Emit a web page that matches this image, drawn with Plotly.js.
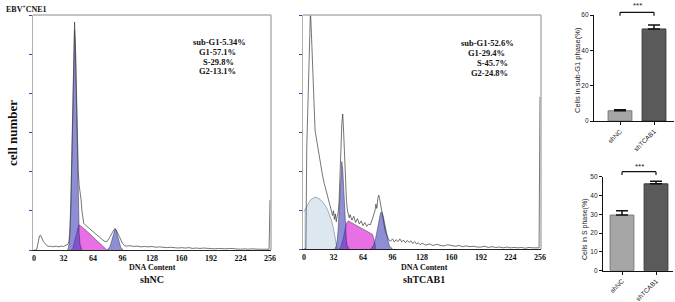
<!DOCTYPE html>
<html><head><meta charset="utf-8">
<script src="https://cdn.plot.ly/plotly-3.0.1.min.js"></script>
<style>html,body{margin:0;padding:0;background:#fff}#chart{width:675px;height:302px}</style>
</head><body><div id="chart"></div>
<script>
// ---------- DATA ----------
// shNC histogram (DNA channel, cell count)
var ncX = [0,2,3,4,5,6,7,8,9,10,12,14,16,18,20,22,24,26,28,30,32,34,36,37,38,39,40,41,42,43,44,45,46,47,48,49,50,51,52,53,54,56,58,60,62,64,66,68,70,72,74,76,78,80,82,84,86,87,88,89,90,92,94,96,98,100,104,108,112,116,120,124,128,132,136,140,144,148,152,156,160,164,168,172,176,180,184,188,192,196,200,204,208,212,216,220,224,228,232,236,240,244,248,252,255,256];
var ncY = [0,0,2,12,28,36,38,34,28,22,15,11,9,10,8,9,10,8,9,10,9,11,12,15,22,55,130,260,420,540,582,520,400,280,200,165,150,130,100,80,68,63,59,55,51,47,43,38,34,30,27,23,21,24,32,42,50,53,54,52,47,37,26,17,12,10,11,9,10,8,9,8,9,7,8,7,6,7,6,5,6,5,6,4,5,4,5,4,4,3,4,3,3,4,3,3,2,3,2,3,2,2,2,3,2,128];
// shNC fitted components
var ncG1X = [36,37,38,39,40,41,42,43,44,45,46,47,48,49,50,51,52];
var ncG1Y = [0,3,14,42,107,221,370,505,560,505,370,221,107,42,14,3,0];
var ncSX = [40,42,44,46,48,49,50,52,56,60,64,68,72,76,78,79];
var ncSY = [0,4,22,45,60,64,63,59,51,42,34,25,16,8,3,0];
var ncG2X = [79,80,81,82,83,84,85,86,87,88,89,90,91,92,93,94,95,96,97];
var ncG2Y = [0,2,4,7,13,22,33,43,51,54,51,43,33,22,13,7,4,2,0];

// shTCAB1 histogram
var tcX = [0,1,2,3,4,5,6,7,8,9,10,11,12,14,16,18,20,22,24,26,28,30,31,32,33,34,35,36,37,38,39,40,41,42,43,44,45,46,47,48,49,50,52,54,56,58,60,62,64,66,68,70,72,74,76,77,78,79,80,81,82,83,84,85,86,87,88,89,90,91,92,94,96,98,100,102,104,106,108,110,112,114,116,118,120,122,124,126,128,132,136,140,144,148,152,156,160,164,168,172,176,180,184,188,192,196,200,204,208,212,216,220,224,228,232,236,240,244,248,252,255,256];
var tcY = [0,0,0,260,340,420,500,610,556,493,430,367,305,
  275,245,215,190,168,150,132,115,100,
  86,98,76,90,70,84,92,118,170,250,320,346,300,230,170,125,100,88,80,88,
  74,84,68,78,64,72,60,68,58,64,62,76,88,
  98,115,104,128,138,130,115,96,84,70,58,47,40,33,28,23,
  20,26,18,24,19,26,18,23,16,22,17,21,14,19,13,16,11,15,
  10,13,9,12,9,8,11,8,7,9,6,8,6,7,5,5,7,4,6,4,5,3,5,3,4,3,4,2,4,3,2,
  3,390];
// shTCAB1 fitted components
var tcSubX = [0,2,4,6,8,10,12,14,16,18,20,22,24,26,28,30,32,34,36];
var tcSubY = [96,106,115,122,128,131,133,132,130,126,121,115,108,98,86,72,52,28,0];
var tcSX = [38,40,42,44,46,48,52,56,60,64,68,72,74,75,76,77,78];
var tcSY = [0,6,22,45,66,72,67,62,57,52,47,42,38,32,24,12,0];
var tcG1X = [33,34,35,36,37,38,39,40,41,42,43,44,45,46,47,48,49];
var tcG1Y = [0,2,8,21,49,96,153,204,224,204,153,96,49,21,8,2,0];
var tcG2X = [72,73,74,75,76,77,78,79,80,81,82,83,84,85,86,87,88,89,90,91,92,93,94,95,96];
var tcG2Y = [0,2,4,7,13,20,31,43,58,72,84,92,95,92,84,72,58,43,31,20,13,7,4,2,0];

var ncStats = ['sub-G1-5.34%','G1-57.1%','S-29.8%','G2-13.1%'];
var tcStats = ['sub-G1-52.6%','G1-29.4%','S-45.7%','G2-24.8%'];
var dnaTicks = [0,32,64,96,128,160,192,224,256];

// bar charts
var groups = ['shNC','shTCAB1'];
var subG1Mean = [5.8,52.1];
var subG1Err = [0.5,2.2];
var sPhaseMean = [29.6,46.2];
var sPhaseErr = [2.3,1.4];

// ---------- LAYOUT HELPERS ----------
var W = 675, H = 302;
function fx(p){return p/W;}
function fy(p){return 1-p/H;}
var serif = 'Liberation Serif, Times New Roman, serif';
var sans = 'Liberation Sans, Arial, sans-serif';
var pink = 'rgb(232,112,228)';
var slate = 'rgba(60,60,185,0.58)';
var subBlue = 'rgb(220,231,240)';

function fillTrace(x,y,color,xa,ya,lc){
  return {x:x,y:y,type:'scatter',mode:'lines',fill:'tozeroy',fillcolor:color,
    line:{color:lc||'rgba(40,40,60,0.8)',width:0.6},xaxis:xa,yaxis:ya,hoverinfo:'skip'};
}
function histTrace(x,y,xa,ya){
  return {x:x,y:y,type:'scatter',mode:'lines',line:{color:'#3a3a3a',width:0.7},xaxis:xa,yaxis:ya,hoverinfo:'skip'};
}

var traces = [
  fillTrace(ncSX,ncSY,pink,'x','y'),
  fillTrace(ncG1X,ncG1Y,slate,'x','y'),
  fillTrace(ncG2X,ncG2Y,slate,'x','y'),
  histTrace(ncX,ncY,'x','y'),
  fillTrace(tcSubX,tcSubY,subBlue,'x2','y2','rgba(80,95,110,0.8)'),
  fillTrace(tcSX,tcSY,pink,'x2','y2'),
  fillTrace(tcG1X,tcG1Y,slate,'x2','y2'),
  fillTrace(tcG2X,tcG2Y,slate,'x2','y2'),
  histTrace(tcX,tcY,'x2','y2'),
  {x:groups,y:subG1Mean,type:'bar',xaxis:'x3',yaxis:'y3',width:0.7,
   marker:{color:['#a6a6a6','#5a5a5a'],line:{color:['#7a7a7a','#3a3a3a'],width:1}},
   error_y:{type:'data',symmetric:false,array:subG1Err,arrayminus:[0,0],color:'#111',thickness:1.5,width:6},hoverinfo:'skip'},
  {x:groups,y:sPhaseMean,type:'bar',xaxis:'x4',yaxis:'y4',width:0.7,
   marker:{color:['#a6a6a6','#5a5a5a'],line:{color:['#7a7a7a','#3a3a3a'],width:1}},
   error_y:{type:'data',symmetric:false,array:sPhaseErr,arrayminus:[0,0],color:'#111',thickness:1.5,width:6},hoverinfo:'skip'}
];

var xr = [-1/0.921875, (271-34)/0.921875];
function histX(d0,d1){
  return {domain:[fx(d0),fx(d1)],range:xr,showgrid:false,zeroline:false,showline:true,linecolor:'#222',linewidth:1,
    tickvals:dnaTicks,ticks:'',tickfont:{family:serif,size:8,color:'#111',weight:'bold'},fixedrange:true};
}
function histY(b,t){
  return {domain:[fy(b),fy(t)],range:[0,600],showgrid:false,zeroline:false,showline:true,linecolor:'#b0b0b0',linewidth:1.5,
    tickvals:[0,100,200,300,400,500,600],ticks:'outside',ticklen:3,tickcolor:'#4040b0',tickwidth:1,showticklabels:false,fixedrange:true};
}
function barY(b,t,max,dt){
  return {domain:[fy(b),fy(t)],range:[0,max],dtick:dt,showgrid:false,zeroline:false,showline:true,linecolor:'#111',linewidth:1.2,
    ticks:'outside',ticklen:3,tickwidth:1,tickcolor:'#111',tickfont:{family:sans,size:6.5,color:'#222'},fixedrange:true};
}
function barX(l,r,c0){
  return {domain:[fx(l),fx(r)],range:[(l-c0)/34,(r-c0)/34],type:'category',showgrid:false,zeroline:false,showline:true,
    linecolor:'#111',linewidth:1.2,ticks:'outside',ticklen:3,tickcolor:'#111',tickangle:-45,
    tickfont:{family:sans,size:6.5,color:'#222'},fixedrange:true};
}

var ann = [];
function txt(t,x,y,size,opts){
  var a = {text:t,x:fx(x),y:fy(y),xref:'paper',yref:'paper',showarrow:false,
    font:{family:serif,size:size,color:'#111',weight:'bold'},xanchor:'center',yanchor:'middle'};
  for (var k in (opts||{})) a[k]=opts[k];
  ann.push(a);
}
txt('EBV<sup>+</sup>CNE1',4,9,8,{xanchor:'left'});
txt('cell number',13,133,13,{textangle:-90});
txt('DNA Content',152,267.5,8);
txt('shNC',152,279,10);
txt('DNA Content',424,267.5,8);
txt('shTCAB1',424,279,10);
var ncCx=[219,217,218,217.5], ncCy=[41.7,51.7,61.7,71];
var tcCx=[487.5,486,492,489.5], tcCy=[42.7,53,62.7,72.5];
for (var i=0;i<4;i++){ txt(ncStats[i],ncCx[i],ncCy[i],8.5); txt(tcStats[i],tcCx[i],tcCy[i],8.5); }
txt('Cells in sub-G1 phase(%)',578,70,7.5,{textangle:-90,font:{family:sans,size:7.5,color:'#222'}});
txt('Cells in S phase(%)',585,230,7,{textangle:-90,font:{family:sans,size:7,color:'#222'}});
txt('***',637,6,8,{font:{family:sans,size:8,color:'#222'}});
txt('***',639,166,8,{font:{family:sans,size:8,color:'#222'}});

var shapes = [];
function frame(xa,ya){
  shapes.push({type:'line',xref:xa+' domain',yref:ya+' domain',x0:0,x1:1,y0:1,y1:1,line:{color:'#b0b0b0',width:1.5}});
  shapes.push({type:'line',xref:xa+' domain',yref:ya+' domain',x0:1,x1:1,y0:0,y1:1,line:{color:'#b0b0b0',width:1.5}});
}
frame('x','y'); frame('x2','y2');
function bracket(xa,yTop,yEnd){
  var l = {color:'#111',width:1.2};
  shapes.push({type:'line',xref:xa,yref:'paper',x0:0,x1:1,y0:fy(yTop),y1:fy(yTop),line:l});
  shapes.push({type:'line',xref:xa,yref:'paper',x0:0,x1:0,y0:fy(yTop),y1:fy(yEnd),line:l});
  shapes.push({type:'line',xref:xa,yref:'paper',x0:1,x1:1,y0:fy(yTop),y1:fy(yEnd),line:l});
}
bracket('x3',12.3,15.7);
bracket('x4',171.7,175);

var layout = {
  width:W,height:H,margin:{l:0,r:0,t:0,b:0},paper_bgcolor:'#fff',plot_bgcolor:'#fff',showlegend:false,
  xaxis:histX(33,271), yaxis:histY(250,15),
  xaxis2:histX(303,541), yaxis2:histY(249,15),
  xaxis3:barX(594,674,620), yaxis3:barY(121,15,60,20),
  xaxis4:barX(603,673,622), yaxis4:barY(270.7,176.7,50,10),
  annotations:ann, shapes:shapes
};
layout.xaxis2.anchor='y2'; layout.yaxis2.anchor='x2';
layout.xaxis3.anchor='y3'; layout.yaxis3.anchor='x3';
layout.xaxis4.anchor='y4'; layout.yaxis4.anchor='x4';
Plotly.newPlot('chart',traces,layout,{displayModeBar:false,staticPlot:true});
</script></body></html>
